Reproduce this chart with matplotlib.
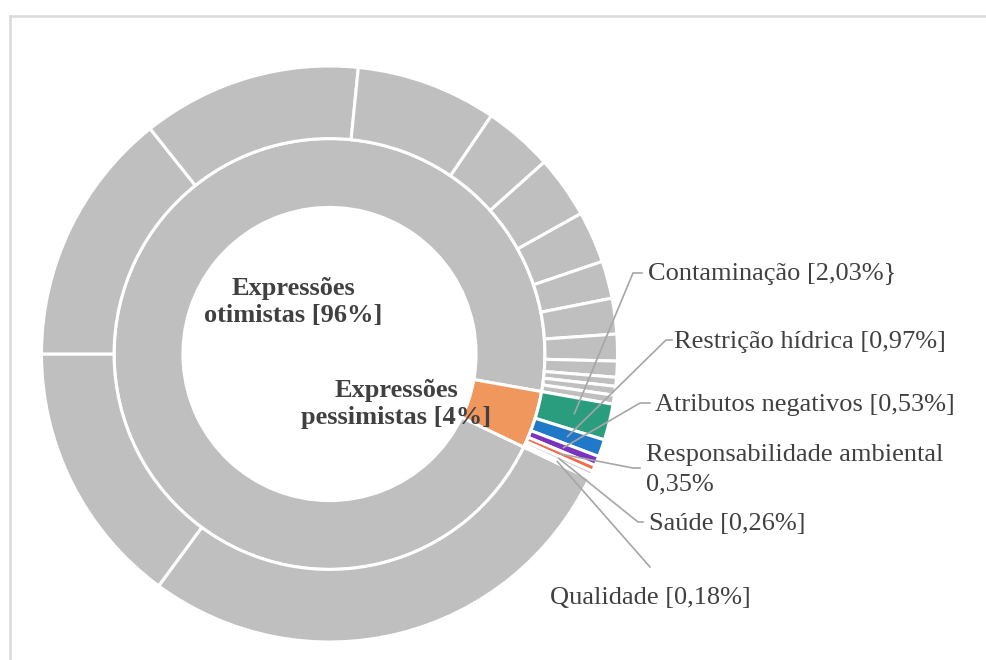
import numpy as np
import matplotlib
matplotlib.use('Agg')
import matplotlib.pyplot as plt
from matplotlib.lines import Line2D

# inner ring: the two groups
group_labels = ['Expressões\notimistas [96%]', 'Expressões\npessimistas [4%]']

# outer ring, optimistic sub-categories (unlabelled in the figure), % of total
otimistas = [28.0, 14.9, 14.3, 12.3, 7.9, 3.9, 3.5, 2.9, 2.1, 2.0, 1.5, 0.9, 0.5, 0.5, 0.5]

# outer ring, pessimistic sub-categories, % of total
pess_values = [2.03, 0.97, 0.53, 0.35, 0.26, 0.18]
pess_labels = ['Contaminação [2,03%}', 'Restrição hídrica [0,97%]',
               'Atributos negativos [0,53%]', 'Responsabilidade ambiental\n0,35%',
               'Saúde [0,26%]', 'Qualidade [0,18%]']
pess_colors = ['#2a9d7f', '#1f78c8', '#7a32c0', '#f26b4a', '#cfcfdb', '#e2e2e2']

GREY = '#bfbfbf'
ORANGE = '#f0975d'
TXT = '#404040'
LEAD = '#a6a6a6'

# figure geometry (pixels)
W, H = 987, 660
CX, CY, R = 329.5, 354.0, 288.0
START = -25.6          # where the optimistic group begins (clockwise)
R_IN, R_MID = 0.509, 0.748

def px(x, y):
    return (x - CX) / R, (CY - y) / R

plt.rcParams['font.family'] = ['Liberation Serif', 'DejaVu Serif']

fig = plt.figure(figsize=(W / 100, H / 100), dpi=100)
ax = fig.add_axes([0, 0, 1, 1])

inner = [sum(otimistas), sum(pess_values)]
outer = otimistas + pess_values
outer_colors = [GREY] * len(otimistas) + pess_colors
total = sum(outer)

wp = dict(edgecolor='white', linewidth=2.2)
ax.pie(inner, radius=R_MID, startangle=START, counterclock=False,
       colors=[GREY, ORANGE], wedgeprops=dict(width=R_MID - R_IN, **wp))
ax.pie(outer, radius=1.0, startangle=START, counterclock=False,
       colors=outer_colors, wedgeprops=dict(width=1.0 - R_MID, **wp))

# group labels
ax.text(*px(293, 302), group_labels[0], ha='center', va='center',
        fontsize=19, fontweight='bold', color=TXT, linespacing=1.2)
ax.text(*px(396, 404), group_labels[1], ha='center', va='center',
        fontsize=19, fontweight='bold', color=TXT, linespacing=1.2)

# leader lines + labels for the pessimistic sub-categories
# (elbow point, tick end, text anchor, ha) in pixels
layout = [
    ((633, 273), (642, 273), (648, 274), 'left'),
    ((666, 340), (672, 340), (674, 342), 'left'),
    ((640, 403), (650, 403), (655, 405), 'left'),
    ((633, 468), (640, 468), (646, 470), 'left'),
    ((638, 522), (643, 522), (649, 524), 'left'),
    ((650, 567), (650, 567), (650, 598), 'center'),
]
theta0 = START - 360 * sum(otimistas) / total
cum = 0.0
for v, lab, (elb, tick, tpos, ha) in zip(pess_values, pess_labels, layout):
    mid = np.deg2rad(theta0 - 360 * (cum + v / 2) / total)
    cum += v
    p0 = (0.875 * np.cos(mid), 0.875 * np.sin(mid))
    e = px(*elb)
    t = px(*tick)
    ax.plot([p0[0], e[0], t[0]], [p0[1], e[1], t[1]], color=LEAD, lw=1.2,
            solid_joinstyle='miter')
    ax.text(*px(*tpos), lab, ha=ha, va='center', fontsize=19, color=TXT,
            linespacing=1.45)

ax.set_xlim(px(0, 0)[0], px(W, 0)[0])
ax.set_ylim(px(0, H)[1], px(0, 0)[1])
ax.set_aspect('equal')
ax.axis('off')

# light frame at top and left
fig.add_artist(Line2D([10 / W, 1], [1 - 16 / H, 1 - 16 / H], color='#d9d9d9', lw=1.8))
fig.add_artist(Line2D([10 / W, 10 / W], [0, 1 - 16 / H], color='#d9d9d9', lw=1.8))

fig.savefig('out.png', dpi=100)
